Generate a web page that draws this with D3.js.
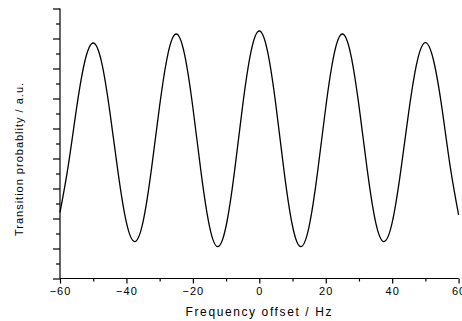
<!DOCTYPE html>
<html>
<head>
<meta charset="utf-8">
<script src="https://cdn.jsdelivr.net/npm/d3@7"></script>
<style>
  body { margin: 0; background: white; }
  text { font-family: Arial, "Liberation Sans", sans-serif; fill: #000; }
</style>
</head>
<body>
<script>
// values, every 2.5 Hz
const freq = [-60, -57.5, -55, -52.5, -50, -47.5, -45, -42.5, -40, -37.5,
              -35, -32.5, -30, -27.5, -25, -22.5, -20, -17.5, -15, -12.5,
              -10, -7.5, -5, -2.5, 0, 2.5, 5, 7.5, 10, 12.5,
              15, 17.5, 20, 22.5, 25, 27.5, 30, 32.5, 35, 37.5,
              40, 42.5, 45, 47.5, 50, 52.5, 55, 57.5, 60];
const prob = [0.220, 0.377, 0.569, 0.725, 0.785, 0.722, 0.556, 0.352, 0.186, 0.123,
              0.189, 0.362, 0.576, 0.749, 0.815, 0.747, 0.570, 0.351, 0.174, 0.106,
              0.175, 0.354, 0.577, 0.756, 0.825, 0.756, 0.577, 0.354, 0.175, 0.106,
              0.174, 0.351, 0.570, 0.747, 0.815, 0.749, 0.576, 0.362, 0.189, 0.123,
              0.186, 0.352, 0.556, 0.722, 0.786, 0.725, 0.567, 0.371, 0.212];
const xTicks = [-60, -40, -20, 0, 20, 40, 60];
const xMinor = [-50, -30, -10, 10, 30, 50];

const width = 462, height = 321;
const plotLeft = 60, plotRight = 458.6, plotTop = 8.5, plotBottom = 278.5;

const svg = d3.select("body").append("svg")
    .attr("width", width)
    .attr("height", height);

const x = d3.scaleLinear().domain([-60, 60]).range([plotLeft, plotRight]);
const y = d3.scaleLinear().domain([0, 0.9]).range([plotBottom, plotTop]);

// ---- x axis
const xAxis = svg.append("g")
    .attr("transform", "translate(0," + plotBottom + ")")
    .call(d3.axisBottom(x).tickValues(xTicks).tickSize(5).tickPadding(4)
        .tickFormat(d3.format("d")));
xAxis.select(".domain").attr("d", "M" + plotLeft + ",0H" + plotRight);
xAxis.selectAll("text")
    .style("font-size", "11px")
    .style("letter-spacing", "1px");
svg.append("g")
    .attr("transform", "translate(0," + plotBottom + ")")
    .call(d3.axisBottom(x).tickValues(xMinor).tickSize(3).tickFormat(""))
    .select(".domain").remove();

// ---- y axis (no labels)
const yAxis = svg.append("g")
    .attr("transform", "translate(" + plotLeft + ",0)")
    .call(d3.axisLeft(y).tickValues(d3.range(0, 0.91, 0.1)).tickSize(7).tickFormat(""));
yAxis.select(".domain").attr("d", "M0," + plotTop + "V" + plotBottom);
svg.append("g")
    .attr("transform", "translate(" + plotLeft + ",0)")
    .call(d3.axisLeft(y).tickValues(d3.range(0.05, 0.9, 0.1)).tickSize(4).tickFormat(""))
    .select(".domain").remove();

svg.selectAll(".domain, .tick line")
    .attr("stroke", "#000")
    .attr("stroke-width", 1.2);

// ---- curve
const line = d3.line()
    .x(function (d, i) { return x(freq[i]); })
    .y(function (d) { return y(d); })
    .curve(d3.curveNatural);

svg.append("path")
    .datum(prob)
    .attr("d", line)
    .attr("fill", "none")
    .attr("stroke", "#000")
    .attr("stroke-width", 1.3);

// ---- axis titles
svg.append("text")
    .attr("x", x(0))
    .attr("y", 316)
    .attr("text-anchor", "middle")
    .style("font-size", "12px")
    .style("letter-spacing", "1.6px")
    .text("Frequency offset / Hz");

svg.append("text")
    .attr("transform", "translate(23,159) rotate(-90)")
    .attr("text-anchor", "middle")
    .style("font-size", "11px")
    .style("letter-spacing", "1px")
    .text("Transition probablity / a.u.");
</script>
</body>
</html>
